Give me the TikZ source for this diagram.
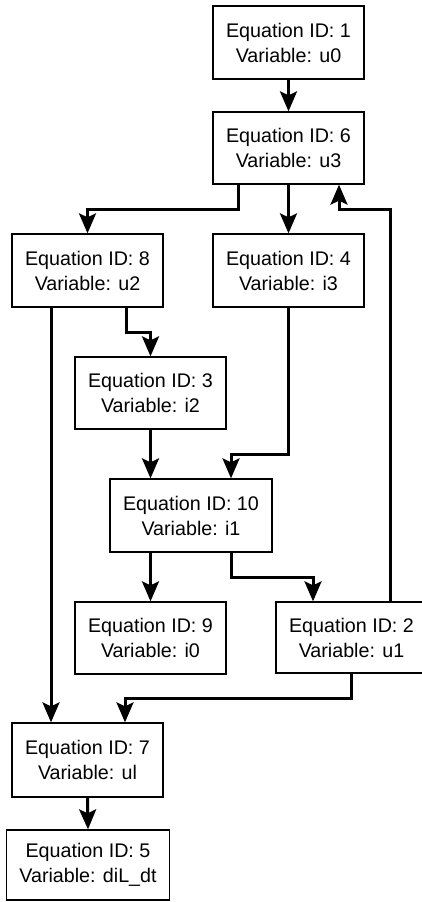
\documentclass[tikz,border=0pt]{standalone}
\usepackage{fontspec}
\setmainfont{Liberation Sans}
\usetikzlibrary{arrows.meta}
\tikzset{
  eqbox/.style={draw, line width=1.3pt, minimum width=151pt, minimum height=73pt,
    inner sep=0pt, align=center, font=\fontsize{19.7}{25}\selectfont},
  edge/.style={line width=3pt, line join=miter,
    -{Stealth[length=20pt,width=17pt,inset=4pt]}}
}
\begin{document}
\begin{tikzpicture}[x=1pt,y=-1pt]
\useasboundingbox (0,0) rectangle (422,902);
\clip (0,0) rectangle (422,902);
\fill[white] (0,0) rectangle (422,902);

\node[eqbox] (n1) at (288.5,42.5) {Equation ID: 1\\Variable: u0};
\node[eqbox, minimum height=72pt] (n6) at (288.5,148) {Equation ID: 6\\Variable: u3};
\node[eqbox] (n8) at (87.5,270.5) {Equation ID: 8\\Variable: u2};
\node[eqbox] (n4) at (288.5,270.5) {Equation ID: 4\\Variable: i3};
\node[eqbox, minimum height=72pt] (n3) at (150.5,393) {Equation ID: 3\\Variable: i2};
\node[eqbox, minimum width=162pt] (n10) at (191,515.5) {Equation ID: 10\\Variable: i1};
\node[eqbox, minimum height=72pt] (n9) at (150.5,638) {Equation ID: 9\\Variable: i0};
\node[eqbox, minimum height=71pt] (n2) at (351.5,637.5) {Equation ID: 2\\Variable: u1};
\node[eqbox, minimum height=74pt] (n7) at (87.5,760) {Equation ID: 7\\Variable: ul};
\node[eqbox, minimum width=163pt, minimum height=70pt] (n5) at (88,865) {Equation ID: 5\\Variable: diL\_dt};

\coordinate (c68) at (87.5,209);
\coordinate (c26) at (339,209);
\coordinate (c83) at (150.5,332);
\coordinate (c410) at (231,454);
\coordinate (c102) at (313,577);
\coordinate (c27) at (125,698);

\draw[edge] (n1.south) -- (n6.north);
\draw[edge] ([xshift=-50.5pt]n6.south) |- (c68) -- (n8.north);
\draw[edge] (n6.south) -- (n4.north);
\draw[edge] ([xshift=38.5pt]n2.north) |- (c26) -- ([xshift=50.5pt]n6.south);
\draw[edge] ([xshift=38.5pt]n8.south) |- (c83) -- (n3.north);
\draw[edge] ([xshift=-36.5pt]n8.south) -- ([xshift=-36.5pt]n7.north);
\draw[edge] (n4.south) |- (c410) -- ([xshift=40pt]n10.north);
\draw[edge] (n3.south) -- ([xshift=-40.5pt]n10.north);
\draw[edge] ([xshift=-40.5pt]n10.south) -- (n9.north);
\draw[edge] ([xshift=40pt]n10.south) |- (c102) -- ([xshift=-38.5pt]n2.north);
\draw[edge] (n2.south) |- (c27) -- ([xshift=37.5pt]n7.north);
\draw[edge] (n7.south) -- (n5.north);
\end{tikzpicture}
\end{document}
